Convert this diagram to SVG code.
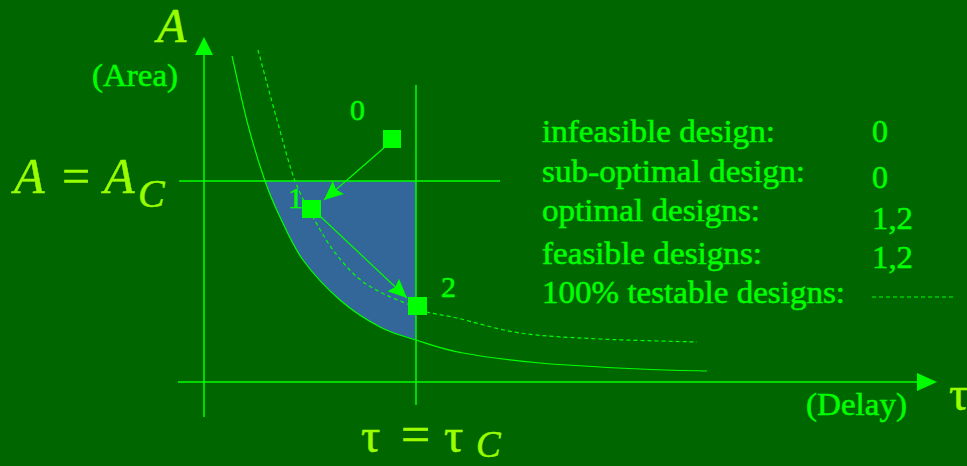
<svg xmlns="http://www.w3.org/2000/svg" width="967" height="466" viewBox="0 0 967 466">
  <style>
    .ln { stroke: #00ff00; stroke-width: 1.5; fill: none; }
    .crv { stroke: #00ff00; stroke-width: 1.2; fill: none; }
    .dash { stroke: #00ff00; stroke-width: 1.2; fill: none; stroke-dasharray: 4 3; }
    .head { fill: #00ff00; stroke: none; }
    .sq { fill: #00ff00; }
    .lbl { font-family: "Liberation Serif", "Times New Roman", serif; font-size: 32px; fill: #00ff00; stroke: #00ff00; stroke-width: 0.5; }
    .num { font-family: "Liberation Serif", "Times New Roman", serif; font-size: 30px; fill: #00ff00; stroke: #00ff00; stroke-width: 0.5; }
    .math { font-family: "Liberation Serif", "Times New Roman", serif; fill: #99ff00; stroke: #99ff00; stroke-width: 0.5; }
    .it { font-style: italic; }
  </style>
  <defs>
    <marker id="ah" viewBox="-20 -9 20 18" refX="0" refY="0" markerWidth="20" markerHeight="18" markerUnits="userSpaceOnUse" orient="auto">
      <path d="M0,0 L-19,-8.5 L-16,0 L-19,8.5 Z" fill="#00ff00"/>
    </marker>
  </defs>
  <rect x="0" y="0" width="967" height="466" fill="#006600"/>

  <g id="feasible-region">
    <path fill="#336699" d="M265,181 L416,181 L416,340 C402.2,335.7 392.7,333.7 380,327 C367.3,320.3 352.8,311.2 340,300 C327.2,288.8 313,273.8 303,260 C293,246.2 286.3,230.2 280,217 C273.7,203.8 270.3,196.3 265,181 Z"/>
  </g>

  <g id="axes">
    <line class="ln" x1="204" y1="52" x2="204" y2="417"/>
    <polygon class="head" points="204,37 195,55 213,55"/>
    <line class="ln" x1="178" y1="382" x2="920" y2="382"/>
    <polygon class="head" points="937,382 917,373 917,391"/>
    <line class="ln" x1="179" y1="181" x2="500" y2="181"/>
    <line class="ln" x1="416" y1="85" x2="416" y2="405"/>
  </g>

  <g id="curves">
    <path class="crv" d="M232,56 C234.7,67.5 242.5,104.2 248,125 C253.5,145.8 259.7,165.7 265,181 C270.3,196.3 273.7,203.8 280,217 C286.3,230.2 293,246.2 303,260 C313,273.8 327.2,288.8 340,300 C352.8,311.2 367.3,320.3 380,327 C392.7,333.7 402.2,335.7 416,340 C429.8,344.3 442.3,349.2 463,353 C483.7,356.8 510.5,360.3 540,363 C569.5,365.7 612.2,367.7 640,369 C667.8,370.3 695.8,370.7 707,371"/>
    <path class="dash" d="M258,50 C261.2,61.7 270.8,98.2 277,120 C283.2,141.8 289,164.8 295,181 C301,197.2 306.7,205.5 313,217 C319.3,228.5 325.7,240 333,250 C340.3,260 349.2,270 357,277 C364.8,284 372,287.7 380,292 C388,296.3 397.2,299.7 405,303 C412.8,306.3 418.3,309.5 427,312 C435.7,314.5 441.5,314.5 457,318 C472.5,321.5 496.2,329.5 520,333 C543.8,336.5 570.5,337.5 600,339 C629.5,340.5 680.8,341.5 697,342"/>
  </g>

  <g id="connectors">
    <line class="crv" x1="385" y1="147" x2="324" y2="200" marker-end="url(#ah)"/>
    <line class="crv" x1="321" y1="217" x2="407" y2="298" marker-end="url(#ah)"/>
  </g>

  <g id="design0">
    <rect class="sq" x="383" y="130" width="18" height="18"/>
    <text class="num" x="350" y="120">0</text>
  </g>
  <g id="design1">
    <rect class="sq" x="302" y="200" width="19" height="18"/>
    <text class="num" x="288" y="208">1</text>
  </g>
  <g id="design2">
    <rect class="sq" x="408" y="297" width="19" height="18"/>
    <text class="num" x="441" y="297">2</text>
  </g>

  <g id="axis-labels">
    <text class="math it" x="157" y="42" font-size="48">A</text>
    <text class="lbl" x="92" y="86" textLength="86" lengthAdjust="spacingAndGlyphs">(Area)</text>
    <text class="lbl" x="806" y="415" textLength="101" lengthAdjust="spacingAndGlyphs">(Delay)</text>
    <text class="math" x="949" y="410" font-size="48">τ</text>
  </g>

  <g id="area-constraint">
    <text class="math it" x="14" y="193" font-size="50">A</text>
    <text class="math" x="62" y="193" font-size="50">=</text>
    <text class="math it" x="104" y="193" font-size="50">A</text>
    <text class="math it" x="138" y="207" font-size="40">C</text>
  </g>

  <g id="delay-constraint">
    <text class="math" x="361" y="452" font-size="48">τ</text>
    <text class="math" x="401" y="452" font-size="52">=</text>
    <text class="math" x="444" y="452" font-size="48">τ</text>
    <text class="math it" x="476" y="457" font-size="37">C</text>
  </g>

  <g id="legend">
    <text class="lbl" x="542" y="142" textLength="233" lengthAdjust="spacingAndGlyphs">infeasible design:</text>
    <text class="lbl" x="872" y="142">0</text>
    <text class="lbl" x="542" y="182" textLength="263" lengthAdjust="spacingAndGlyphs">sub-optimal design:</text>
    <text class="lbl" x="872" y="188">0</text>
    <text class="lbl" x="542" y="221" textLength="218" lengthAdjust="spacingAndGlyphs">optimal designs:</text>
    <text class="lbl" x="872" y="229" textLength="41" lengthAdjust="spacingAndGlyphs">1,2</text>
    <text class="lbl" x="542" y="264" textLength="220" lengthAdjust="spacingAndGlyphs">feasible designs:</text>
    <text class="lbl" x="872" y="268" textLength="41" lengthAdjust="spacingAndGlyphs">1,2</text>
    <text class="lbl" x="542" y="303" textLength="303" lengthAdjust="spacingAndGlyphs">100% testable designs:</text>
    <line class="dash" x1="872" y1="297" x2="953" y2="297" stroke-width="1"/>
  </g>
</svg>
